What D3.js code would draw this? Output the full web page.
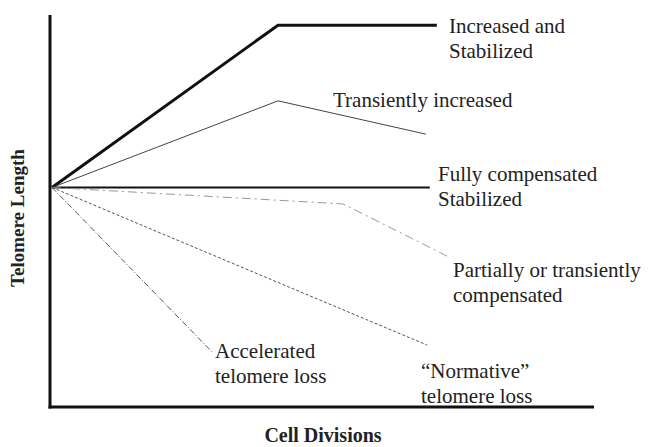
<!DOCTYPE html>
<html>
<head>
<meta charset="utf-8">
<script src="https://cdn.jsdelivr.net/npm/d3@7"></script>
<style>
  body { margin: 0; background: #fff; }
  svg { display: block; }
  text { font-family: "Liberation Serif", "Times New Roman", serif; fill: #222; }
</style>
</head>
<body>
<svg id="chart" width="648" height="447"></svg>
<script>
  // curves, in arbitrary units (cell divisions 0-100, telomere length 0-100)
  const increasedStabilized = [[0, 56], [41.7, 97.4], [71, 97.4]];
  const transientlyIncreased = [[0, 56], [41.7, 78.1], [69, 69.6]];
  const fullyCompensated = [[0, 56], [69.7, 56]];
  const partiallyCompensated = [[0, 56], [53.7, 51.8], [72.9, 38.5]];
  const normativeLoss = [[0, 56], [69.2, 15.8]];
  const acceleratedLoss = [[0, 56], [29.7, 13.8]];

  const labelIncreased = ["Increased and", "Stabilized"];
  const labelTransient = ["Transiently increased"];
  const labelFully = ["Fully compensated", "Stabilized"];
  const labelPartial = ["Partially or transiently", "compensated"];
  const labelAccelerated = ["Accelerated", "telomere loss"];
  const labelNormative = ["\u201CNormative\u201D", "telomere loss"];

  const xTitle = "Cell Divisions";
  const yTitle = "Telomere Length";

  const svg = d3.select("#chart");

  const x = d3.scaleLinear().domain([0, 100]).range([52, 594]);
  const y = d3.scaleLinear().domain([0, 100]).range([407, 15]);

  const line = d3.line().x(d => x(d[0])).y(d => y(d[1]));

  const series = [
    { data: increasedStabilized, stroke: "#111", width: 3, dash: null },
    { data: transientlyIncreased, stroke: "#444", width: 1, dash: null },
    { data: fullyCompensated, stroke: "#111", width: 2, dash: null },
    { data: partiallyCompensated, stroke: "#999", width: 1, dash: "9,4,2,4" },
    { data: normativeLoss, stroke: "#555", width: 1, dash: "3,2" },
    { data: acceleratedLoss, stroke: "#555", width: 1, dash: "6,2,1,2" }
  ];

  svg.selectAll("path.curve")
    .data(series)
    .join("path")
    .attr("class", "curve")
    .attr("d", d => line(d.data))
    .attr("fill", "none")
    .attr("stroke", d => d.stroke)
    .attr("stroke-width", d => d.width)
    .attr("stroke-dasharray", d => d.dash)
    .attr("stroke-linejoin", "miter");

  // axes (plain lines, no ticks)
  svg.append("line")
    .attr("x1", 50).attr("x2", 50)
    .attr("y1", y(100)).attr("y2", y(0) + 1.5)
    .attr("stroke", "#111").attr("stroke-width", 3);
  svg.append("line")
    .attr("x1", 48.5).attr("x2", x(100))
    .attr("y1", y(0)).attr("y2", y(0))
    .attr("stroke", "#111").attr("stroke-width", 3);

  // annotations
  const labels = [
    { lines: labelIncreased, x: 449, y: 33 },
    { lines: labelTransient, x: 333, y: 107 },
    { lines: labelFully, x: 438, y: 181 },
    { lines: labelPartial, x: 453, y: 277 },
    { lines: labelAccelerated, x: 215, y: 358 },
    { lines: labelNormative, x: 421, y: 378 }
  ];

  labels.forEach(l => {
    const t = svg.append("text")
      .attr("x", l.x)
      .attr("y", l.y)
      .attr("font-size", 21);
    l.lines.forEach((s, i) => {
      t.append("tspan")
        .attr("x", l.x)
        .attr("dy", i === 0 ? 0 : 25)
        .text(s);
    });
  });

  svg.append("text")
    .attr("x", 323)
    .attr("y", 442)
    .attr("text-anchor", "middle")
    .attr("font-size", 20)
    .attr("font-weight", "bold")
    .text(xTitle);

  svg.append("text")
    .attr("transform", "translate(24,218) rotate(-90)")
    .attr("text-anchor", "middle")
    .attr("font-size", 19)
    .attr("font-weight", "bold")
    .text(yTitle);
</script>
</body>
</html>
